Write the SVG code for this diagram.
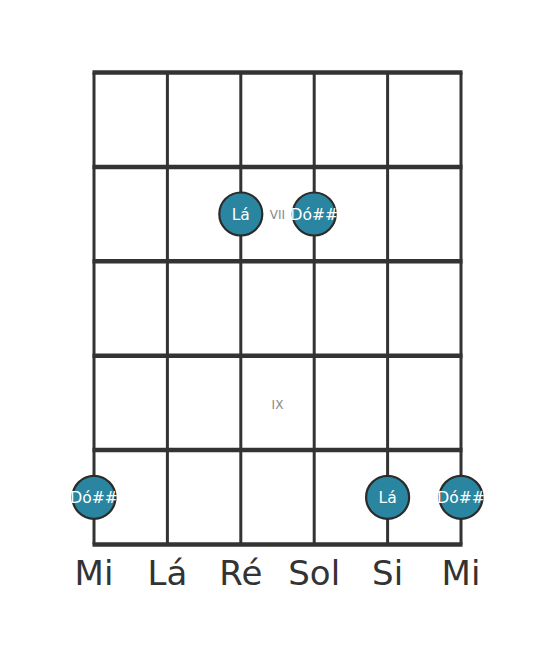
<svg xmlns="http://www.w3.org/2000/svg" width="555" height="656" viewBox="0 0 555 656">
<style>
.fret{stroke:#333;stroke-width:4.5;fill:none}
.str{stroke:#333;stroke-width:3;fill:none}
.dot{fill:#2a86a0;stroke:#2b2b2b;stroke-width:2.2}
.nt{font-family:"DejaVu Sans",sans-serif;font-size:15.5px;fill:#fff;text-anchor:middle}
.fn{font-family:"DejaVu Sans",sans-serif;font-size:12px;fill:#888;text-anchor:middle}
.sn{font-family:"DejaVu Sans",sans-serif;font-size:34px;fill:#333;text-anchor:middle}
</style>
<rect width="555" height="656" fill="#fff"/>
<g id="connectors">
<line class="str" x1="94" y1="72.5" x2="94" y2="544.5"/>
<line class="str" x1="167.4" y1="72.5" x2="167.4" y2="544.5"/>
<line class="str" x1="240.8" y1="72.5" x2="240.8" y2="544.5"/>
<line class="str" x1="314.2" y1="72.5" x2="314.2" y2="544.5"/>
<line class="str" x1="387.6" y1="72.5" x2="387.6" y2="544.5"/>
<line class="str" x1="461" y1="72.5" x2="461" y2="544.5"/>
<line class="fret" x1="92.5" y1="72.5" x2="462.5" y2="72.5"/>
<line class="fret" x1="92.5" y1="166.9" x2="462.5" y2="166.9"/>
<line class="fret" x1="92.5" y1="261.3" x2="462.5" y2="261.3"/>
<line class="fret" x1="92.5" y1="355.7" x2="462.5" y2="355.7"/>
<line class="fret" x1="92.5" y1="450.1" x2="462.5" y2="450.1"/>
<line class="fret" x1="92.5" y1="544.5" x2="462.5" y2="544.5"/>
</g>
<g id="fret-labels">
<text class="fn" x="277.5" y="218.5">VII</text>
<text class="fn" x="277.5" y="408.5">IX</text>
</g>
<g id="n1"><circle class="dot" cx="240.8" cy="214" r="21.5"/><text class="nt" x="240.8" y="219.5">Lá</text></g>
<g id="n2"><circle class="dot" cx="314.2" cy="214" r="21.5"/><text class="nt" x="314.2" y="219.5">Dó##</text></g>
<g id="n3"><circle class="dot" cx="94" cy="497.3" r="21.5"/><text class="nt" x="94" y="502.8">Dó##</text></g>
<g id="n4"><circle class="dot" cx="387.6" cy="497.3" r="21.5"/><text class="nt" x="387.6" y="502.8">Lá</text></g>
<g id="n5"><circle class="dot" cx="461" cy="497.3" r="21.5"/><text class="nt" x="461" y="502.8">Dó##</text></g>
<g id="string-names">
<text class="sn" x="94" y="585">Mi</text>
<text class="sn" x="167.4" y="585">Lá</text>
<text class="sn" x="240.8" y="585">Ré</text>
<text class="sn" x="314.2" y="585">Sol</text>
<text class="sn" x="387.6" y="585">Si</text>
<text class="sn" x="461" y="585">Mi</text>
</g>
</svg>
